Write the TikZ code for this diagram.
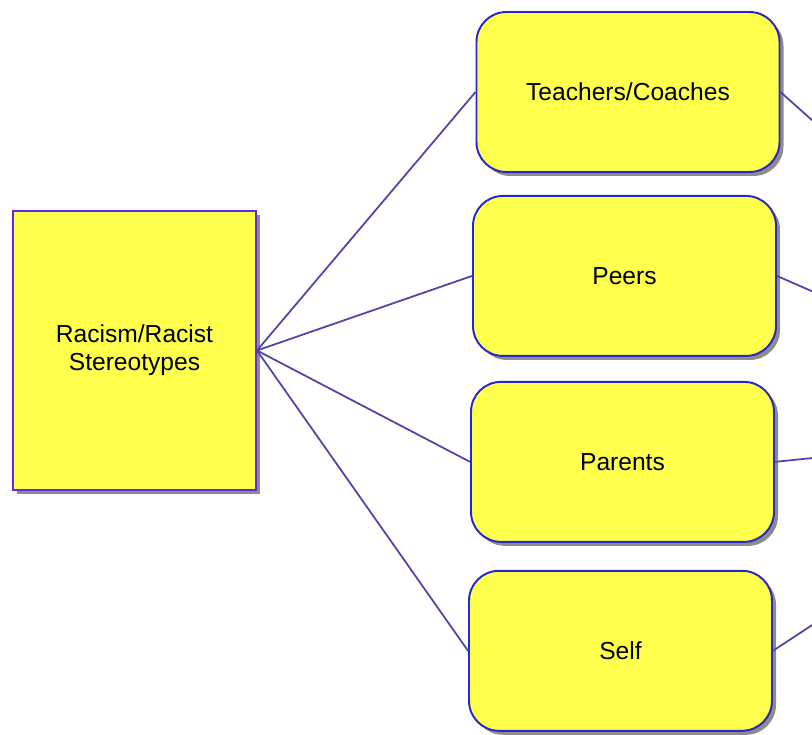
\documentclass[tikz,border=0pt]{standalone}
\usepackage{xcolor}
\usepackage{fontspec}
\setmainfont{Liberation Sans}
\usepackage{tikz}
\usetikzlibrary{positioning,shadows}

\definecolor{boxfill}{RGB}{255,255,77}
\definecolor{rootline}{RGB}{100,40,235}
\definecolor{boxline}{RGB}{40,40,200}
\definecolor{linkline}{RGB}{75,70,170}

\tikzset{
  rootbox/.style={draw=rootline, line width=1.1pt, rectangle, fill=boxfill,
    minimum width=4.86cm, minimum height=5.58cm, align=center,
    drop shadow={shadow xshift=0.08cm, shadow yshift=-0.08cm, fill=black!45, opacity=1}},
  branch/.style={draw=boxline, line width=1.1pt, rectangle, rounded corners=0.6cm, fill=boxfill,
    minimum width=6.06cm, minimum height=3.2cm, align=center,
    drop shadow={shadow xshift=0.08cm, shadow yshift=-0.08cm, fill=black!45, opacity=1}},
  link/.style={draw=linkline, line width=1pt}
}

\begin{document}
\begin{tikzpicture}[every node/.style={font=\fontsize{14}{16}\selectfont}]
    \clip (0,0) rectangle (16.24,14.68);
    \useasboundingbox (0,0) rectangle (16.24,14.68);

    % Root cause
    \node[rootbox] (racism) at (2.69,7.67) {Racism/Racist\\Stereotypes};

    % Sources
    \node[branch] (teach) at (12.56,12.84) {Teachers/Coaches};
    \node[branch, below=0.44cm of teach, xshift=-0.07cm] (peers) {Peers};
    \node[branch, below=0.48cm of peers, xshift=-0.04cm] (parents) {Parents};
    \node[branch, below=0.54cm of parents, xshift=-0.04cm] (self) {Self};

    % Free ends beyond the right edge
    \coordinate (teachout) at (16.64,11.92);
    \coordinate (peersout) at (16.64,8.68);
    \coordinate (parentsout) at (16.64,5.56);
    \coordinate (selfout) at (16.64,2.44);

    % Links
    \draw[link] (racism.east) -- (teach.west);
    \draw[link] (racism.east) -- (peers.west);
    \draw[link] (racism.east) -- (parents.west);
    \draw[link] (racism.east) -- (self.west);
    \draw[link] (teach.east) -- (teachout);
    \draw[link] (peers.east) -- (peersout);
    \draw[link] (parents.east) -- (parentsout);
    \draw[link] (self.east) -- (selfout);
\end{tikzpicture}
\end{document}
